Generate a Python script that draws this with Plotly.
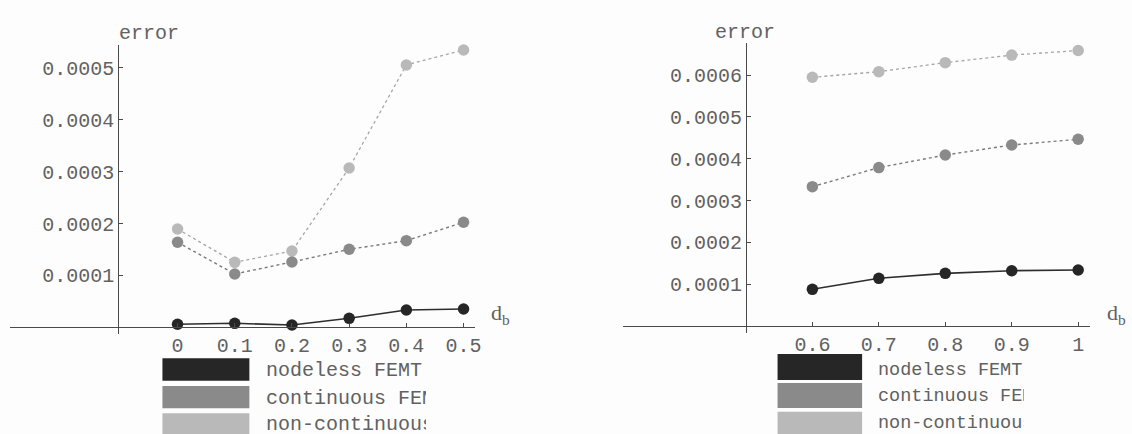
import plotly.graph_objects as go

# ---------------- data ----------------
series_names = ["nodeless FEMT", "continuous FEM", "non-continuous FEM"]

db_left = [0.0, 0.1, 0.2, 0.3, 0.4, 0.5]
nodeless_left = [0.0000058, 0.0000077, 0.0000044, 0.0000173, 0.0000333, 0.0000353]
continuous_left = [0.0001638, 0.0001027, 0.0001258, 0.0001503, 0.0001669, 0.0002023]
noncont_left = [0.0001894, 0.0001252, 0.0001470, 0.0003070, 0.0005054, 0.0005343]

db_right = [0.6, 0.7, 0.8, 0.9, 1.0]
nodeless_right = [0.0000878, 0.0001141, 0.0001260, 0.0001323, 0.0001340]
continuous_right = [0.0003333, 0.0003790, 0.0004090, 0.0004330, 0.0004467]
noncont_right = [0.0005950, 0.0006084, 0.0006300, 0.0006480, 0.0006590]

xticks_left = [0, 0.1, 0.2, 0.3, 0.4, 0.5]
xticktext_left = ["0", "0.1", "0.2", "0.3", "0.4", "0.5"]
yticks_left = [0.0001, 0.0002, 0.0003, 0.0004, 0.0005]
yticktext_left = ["0.0001", "0.0002", "0.0003", "0.0004", "0.0005"]

xticks_right = [0.6, 0.7, 0.8, 0.9, 1.0]
xticktext_right = ["0.6", "0.7", "0.8", "0.9", "1"]
yticks_right = [0.0001, 0.0002, 0.0003, 0.0004, 0.0005, 0.0006]
yticktext_right = ["0.0001", "0.0002", "0.0003", "0.0004", "0.0005", "0.0006"]

# ---------------- style ----------------
W, H = 1132, 434
FONT = "Courier New, Liberation Mono, monospace"
TXT = "#616161"
AX = "#4a4a4a"
marker_cols = ["#262626", "#8a8a8a", "#b9b9b9"]
line_cols = ["#2e2e2e", "#7a7a7a", "#a6a6a6"]
line_dash = ["solid", "dot", "dot"]
line_w = [1.6, 1.4, 1.3]


def px(x):
    return x / W


def py(y):
    return 1 - y / H


fig = go.Figure()

panels = [
    (db_left, [nodeless_left, continuous_left, noncont_left], "x", "y"),
    (db_right, [nodeless_right, continuous_right, noncont_right], "x2", "y2"),
]
for xs, ys_list, xa, ya in panels:
    for i in [2, 1, 0]:
        fig.add_trace(go.Scatter(
            x=xs, y=ys_list[i], xaxis=xa, yaxis=ya, mode="lines+markers",
            name=series_names[i], showlegend=False, hoverinfo="skip",
            line=dict(color=line_cols[i], width=line_w[i], dash=line_dash[i]),
            marker=dict(size=11.5, color=marker_cols[i], line=dict(width=0)),
            cliponaxis=False,
        ))

axis_common = dict(
    showgrid=False, zeroline=False, showline=True, linecolor=AX, linewidth=1.2,
    ticks="inside", ticklen=4, tickcolor=AX, tickwidth=1,
    tickfont=dict(family=FONT, size=20, color=TXT), tickmode="array",
)

fig.update_layout(
    width=W, height=H, autosize=False,
    margin=dict(l=0, r=0, t=0, b=0),
    paper_bgcolor="#fdfdfd", plot_bgcolor="rgba(0,0,0,0)",
    showlegend=False,
    xaxis=dict(domain=[px(10), px(477.7)], range=[-0.2930, 0.5203],
               anchor="free", position=py(327.3),
               tickvals=xticks_left, ticktext=xticktext_left, **axis_common),
    yaxis=dict(domain=[py(334), py(45)], range=[-0.0000129, 0.0005439],
               anchor="free", position=px(119),
               tickvals=yticks_left, ticktext=yticktext_left, **axis_common),
    xaxis2=dict(domain=[px(626.7), px(1096)], range=[0.31557, 1.0181],
                anchor="free", position=py(326),
                tickvals=xticks_right, ticktext=xticktext_right, **axis_common),
    yaxis2=dict(domain=[py(333), py(43)], range=[-0.0000167, 0.000677],
                anchor="free", position=px(750),
                tickvals=yticks_right, ticktext=yticktext_right, **axis_common),
)

annotations = []
# axis labels
for xc, yc in [(117.5, 20), (748.5, 19)]:
    annotations.append(dict(x=px(xc), y=py(yc), xref="paper", yref="paper",
                            text="error", showarrow=False,
                            font=dict(family=FONT, size=20, color=TXT)))
for xl, yc in [(492, 330), (1111, 330)]:
    annotations.append(dict(x=px(xl), y=py(yc), xref="paper", yref="paper",
                            xanchor="left", text="d<sub>b</sub>", showarrow=False,
                            font=dict(family="Liberation Serif, Times New Roman, serif",
                                      size=22, color=TXT)))

# custom legends (swatch rectangles + clipped labels)
shapes = []
legend_specs = [
    # swatch x0, x1, rows (top, bottom), text x, text centers, text width, font size
    (163.3, 250.7, [(358.3, 380.7), (386, 408.3), (413.3, 436)], 266.7,
     [370.7, 398.3, 424], 160, 20),
    (781.7, 866.7, [(354, 380), (383, 408), (411.7, 436)], 881.7,
     [370.7, 396.7, 423], 146, 18.5),
]
for sx0, sx1, rows, tx, tcs, tw, fs in legend_specs:
    for i in range(3):
        y0, y1 = rows[i]
        shapes.append(dict(type="rect", xref="paper", yref="paper", layer="below",
                           x0=px(sx0), x1=px(sx1), y0=py(y1), y1=py(y0),
                           fillcolor=marker_cols[i], line=dict(width=0)))
        annotations.append(dict(x=px(tx), y=py(tcs[i]), xref="paper", yref="paper",
                                xanchor="left", yanchor="middle", align="left",
                                width=tw, borderpad=0,
                                text=series_names[i], showarrow=False,
                                font=dict(family=FONT, size=fs, color=TXT)))

fig.update_layout(annotations=annotations, shapes=shapes)

fig.write_html(
    "out.html",
    config={"displayModeBar": False},
    post_script="document.body.style.margin='0px';document.body.style.overflow='hidden';",
)
